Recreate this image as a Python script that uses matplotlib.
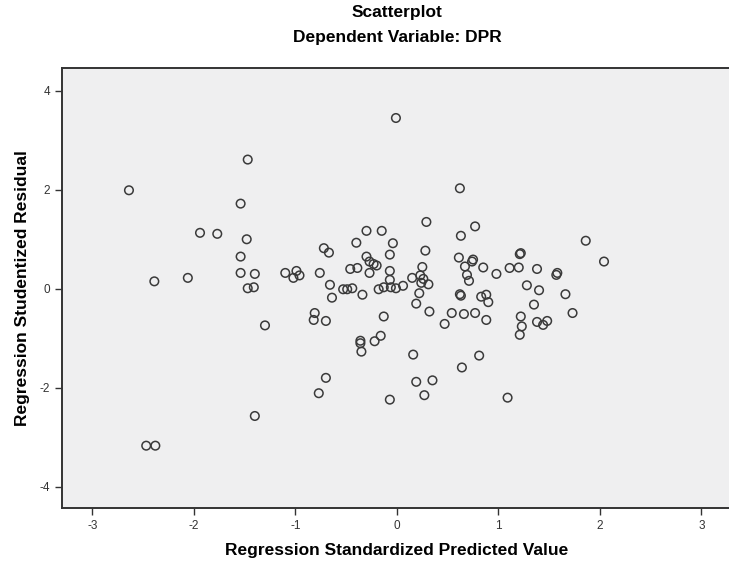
import numpy as np
import matplotlib.pyplot as plt

# predicted values (standardized) and studentized residuals
pred = [-2.64, -2.39, -2.06, -2.47, -2.38, -1.94, -1.77, -1.47, -1.54, -1.48,
        -1.54, -1.54, -1.40, -1.47, -1.41, -1.30, -1.40,
        -1.10, -0.99, -1.02, -0.96, -0.76, -0.72, -0.67, -0.66, -0.64, -0.81,
        -0.82, -0.70, -0.70, -0.77, -0.53, -0.49, -0.44, -0.46, -0.39, -0.40,
        -0.30, -0.15, -0.30, -0.27, -0.23, -0.20, -0.27, -0.34, -0.18, -0.13,
        -0.06, -0.01, 0.06, -0.13, -0.36, -0.36, -0.35, -0.22, -0.16, -0.07,
        -0.01, -0.04, -0.07, -0.07, -0.07,
        0.29, 0.28, 0.25, 0.15, 0.23, 0.26, 0.24, 0.31, 0.22, 0.19, 0.32,
        0.16, 0.19, 0.35, 0.27, 0.62, 0.77, 0.63, 0.61, 0.74, 0.75, 0.67,
        0.85, 0.69, 0.71, 0.62, 0.63, 0.83, 0.88, 0.90, 0.54, 0.66, 0.77,
        0.47, 0.88, 0.64, 0.81, 0.98, 1.11, 1.20, 1.21, 1.22, 1.38, 1.57,
        1.58, 1.28, 1.40, 1.66, 1.35, 1.73, 1.22, 1.23, 1.21, 1.38, 1.44,
        1.48, 1.09, 1.86, 2.04]
resid = [1.99, 0.15, 0.22, -3.17, -3.17, 1.13, 1.11, 2.61, 1.72, 1.00,
         0.65, 0.32, 0.30, 0.01, 0.03, -0.74, -2.57,
         0.32, 0.36, 0.22, 0.27, 0.32, 0.82, 0.73, 0.08, -0.18, -0.49,
         -0.63, -0.65, -1.80, -2.11, -0.01, -0.01, 0.01, 0.40, 0.42, 0.93,
         1.17, 1.17, 0.65, 0.55, 0.50, 0.47, 0.32, -0.12, -0.01, 0.03,
         0.03, 0.01, 0.06, -0.56, -1.05, -1.10, -1.27, -1.06, -0.95, -2.24,
         3.45, 0.92, 0.69, 0.36, 0.18,
         1.35, 0.77, 0.44, 0.22, 0.27, 0.20, 0.12, 0.09, -0.09, -0.30, -0.46,
         -1.33, -1.88, -1.85, -2.15, 2.03, 1.26, 1.07, 0.63, 0.55, 0.59, 0.45,
         0.43, 0.28, 0.16, -0.11, -0.14, -0.16, -0.12, -0.27, -0.49, -0.51, -0.49,
         -0.71, -0.63, -1.59, -1.35, 0.30, 0.42, 0.43, 0.70, 0.72, 0.40, 0.28,
         0.32, 0.07, -0.03, -0.11, -0.32, -0.49, -0.56, -0.76, -0.93, -0.67, -0.73,
         -0.65, -2.20, 0.97, 0.55]

xticks = [-3, -2, -1, 0, 1, 2, 3]
yticks = [-4, -2, 0, 2, 4]

plt.rcParams['font.family'] = ['Liberation Sans', 'DejaVu Sans']
plt.rcParams['axes.unicode_minus'] = False

fig = plt.figure(figsize=(7.29, 5.62), dpi=100)
ax = fig.add_axes([0.085, 0.096, 0.919, 0.783])
ax.set_facecolor('#efeff0')

ax.scatter(pred, resid, s=38, facecolors='none', edgecolors='#3a3a3a', linewidths=1.1)

ax.set_xlim(-3.3, 3.3)
ax.set_ylim(-4.43, 4.46)
ax.set_xticks(xticks)
ax.set_yticks(yticks)
ax.tick_params(direction='out', length=5, width=1, labelsize=8.5, colors='#333333')
for s in ax.spines.values():
    s.set_linewidth(1.4)
    s.set_color('#333333')

ax.set_xlabel('Regression Standardized Predicted Value', fontsize=12.5, fontweight='bold', labelpad=8)
ax.set_ylabel('Regression Studentized Residual', fontsize=12.5, fontweight='bold', labelpad=7)

fig.text(0.545, 0.977, 'Scatterplot', ha='center', va='center', fontsize=12.5, fontweight='bold')
fig.text(0.545, 0.933, 'Dependent Variable: DPR', ha='center', va='center', fontsize=12.5, fontweight='bold')

fig.savefig('out.png', dpi=100)
